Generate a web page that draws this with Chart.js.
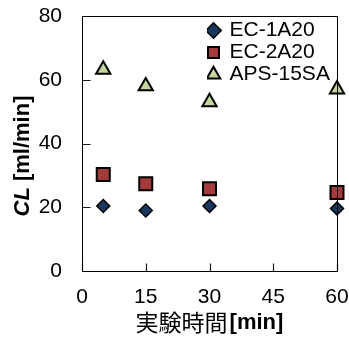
<!DOCTYPE html>
<html>
<head>
<meta charset="utf-8">
<script src="https://cdn.jsdelivr.net/npm/chart.js@4/dist/chart.umd.min.js"></script>
<style>
  html, body { margin: 0; padding: 0; background: #ffffff; }
  #wrap { width: 349px; height: 338px; }
</style>
</head>
<body>
<div id="wrap"><canvas id="c" width="349" height="338"></canvas></div>
<script>
const times = [5, 15, 30, 60];
const ec1a20 = [20.4, 19.0, 20.4, 19.6];
const ec2a20 = [30.3, 27.4, 25.8, 24.6];
const aps15sa = [63.2, 58.0, 53.0, 57.0];
const seriesNames = ['EC-1A20', 'EC-2A20', 'APS-15SA'];
const xTicks = [0, 15, 30, 45, 60];
const yTicks = [0, 20, 40, 60, 80];
const xTitleJa = '実験時間';
const xTitleUnit = '[min]';
const yTitleVar = 'CL';
const yTitleUnit = ' [ml/min]';

const toPts = (vals) => times.map((t, i) => ({ x: t, y: vals[i] }));
const FONT = "'Liberation Sans', Arial, sans-serif";
const TICK_LEN = 8;

const frame = {
  id: 'frame',
  afterLayout(chart) {
    const lg = chart.legend;
    const w = lg.width, h = lg.height;
    lg.left = 207; lg.top = 19;
    lg.right = lg.left + w; lg.bottom = lg.top + h;
  },
  afterDraw(chart) {
    const { ctx, chartArea: a, scales } = chart;
    // frame and inward tick marks
    ctx.save();
    ctx.strokeStyle = '#1a1a1a';
    ctx.lineWidth = 1.2;
    const L = Math.round(a.left) + 0.5, B = Math.round(a.bottom) + 0.5;
    ctx.beginPath();
    yTicks.forEach(v => {
      const py = Math.round(scales.y.getPixelForValue(v)) + 0.5;
      ctx.moveTo(L, py); ctx.lineTo(L + TICK_LEN, py);
    });
    xTicks.forEach(v => {
      const px = Math.round(scales.x.getPixelForValue(v)) + 0.5;
      ctx.moveTo(px, B); ctx.lineTo(px, B - TICK_LEN);
    });
    ctx.stroke();
    ctx.lineWidth = 1;
    ctx.strokeStyle = '#000000';
    ctx.strokeRect(Math.round(a.left) + 0.5, Math.round(a.top) + 0.5,
                   Math.round(a.right - a.left), Math.round(a.bottom - a.top));
    ctx.restore();

    ctx.save();
    ctx.fillStyle = '#000000';
    // y title
    ctx.translate(23, 156);
    ctx.rotate(-Math.PI / 2);
    ctx.textBaseline = 'middle';
    ctx.font = "italic bold 22px " + FONT;
    const w1 = ctx.measureText(yTitleVar).width;
    ctx.font = "bold 22px " + FONT;
    const w2 = ctx.measureText(yTitleUnit).width;
    let x0 = -(w1 + w2) / 2;
    ctx.textAlign = 'left';
    ctx.font = "italic bold 22px " + FONT;
    ctx.fillText(yTitleVar, x0, 0);
    ctx.font = "bold 22px " + FONT;
    ctx.fillText(yTitleUnit, x0 + w1, 0);
    ctx.restore();
    // x title
    ctx.save();
    ctx.fillStyle = '#000000';
    ctx.textBaseline = 'middle';
    ctx.textAlign = 'left';
    ctx.font = "23px 'Noto Sans CJK JP', sans-serif";
    const w3 = ctx.measureText(xTitleJa).width;
    ctx.font = "bold 22px " + FONT;
    const w4 = ctx.measureText(xTitleUnit).width;
    const cx = (a.left + a.right) / 2;
    let xs = cx - (w3 + w4 + 2) / 2;
    ctx.font = "23px 'Noto Sans CJK JP', sans-serif";
    ctx.fillText(xTitleJa, xs, 322);
    ctx.font = "bold 22px " + FONT;
    ctx.fillText(xTitleUnit, xs + w3 + 2, 323);
    ctx.restore();
  }
};

new Chart(document.getElementById('c'), {
  type: 'scatter',
  data: {
    datasets: [
      { label: seriesNames[0], data: toPts(ec1a20), pointStyle: 'rectRot', pointRadius: 6.5,
        backgroundColor: '#17375E', borderColor: '#000000', borderWidth: 1.5, clip: false },
      { label: seriesNames[1], data: toPts(ec2a20), pointStyle: 'rect', pointRadius: 9.2,
        backgroundColor: '#A23C3A', borderColor: '#000000', borderWidth: 2, clip: false },
      { label: seriesNames[2], data: toPts(aps15sa), pointStyle: 'triangle', pointRadius: 8.2,
        backgroundColor: '#C3D69B', borderColor: '#000000', borderWidth: 2, clip: false }
    ]
  },
  options: {
    responsive: false,
    animation: false,
    devicePixelRatio: 1,
    layout: { padding: { top: 16, right: 12, left: 0, bottom: 0 } },
    plugins: {
      legend: {
        position: 'chartArea',
        align: 'start',
        labels: {
          usePointStyle: true,
          boxWidth: 11,
          boxHeight: 11,
          padding: 1,
          color: '#000000',
          font: { family: FONT, size: 21, lineHeight: 1 }
        }
      },
      tooltip: { enabled: false }
    },
    scales: {
      x: {
        type: 'linear',
        min: 0, max: 60,
        afterBuildTicks: (s) => { s.ticks = xTicks.map(v => ({ value: v })); },
        afterFit: (s) => { s.height = 67; s.paddingLeft = 0; s.paddingRight = 0; s.paddingTop = 0; s.paddingBottom = 0; },
        grid: { drawOnChartArea: false, drawTicks: false },
        border: { display: true, color: '#000000', width: 1 },
        ticks: { padding: 14, color: '#000000', font: { family: FONT, size: 21 }, maxRotation: 0 }
      },
      y: {
        type: 'linear',
        min: 0, max: 80,
        afterBuildTicks: (s) => { s.ticks = yTicks.map(v => ({ value: v })); },
        afterFit: (s) => { s.width = 82; s.paddingLeft = 0; s.paddingRight = 0; s.paddingTop = 0; s.paddingBottom = 0; },
        grid: { drawOnChartArea: false, drawTicks: false },
        border: { display: true, color: '#000000', width: 1 },
        ticks: { padding: 20, color: '#000000', font: { family: FONT, size: 21 } }
      }
    }
  },
  plugins: [frame]
});
</script>
</body>
</html>
